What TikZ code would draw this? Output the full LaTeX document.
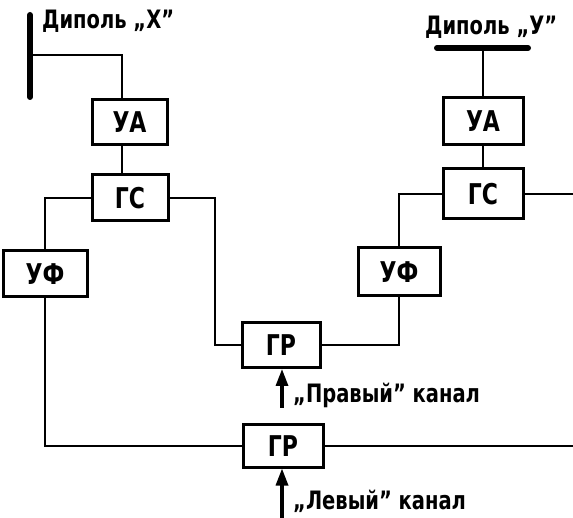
\documentclass[tikz,border=0pt]{standalone}
\usepackage{graphicx}
\usepackage{fontspec}
\setmainfont{DejaVu Sans}
\usetikzlibrary{arrows.meta,calc}
\newcommand{\tallt}[1]{\scalebox{1}[1.3]{#1}}
\begin{document}
\begin{tikzpicture}[x=1pt,y=-1pt,
  blk/.style={draw,line width=3pt,minimum width=#1,inner sep=0pt,font=\bfseries\fontsize{22}{22}\selectfont},
  wire/.style={line width=2.8pt},
  bar/.style={line width=6pt,line cap=round},
  arr/.style={line width=3.2pt,-{Triangle[length=17pt,width=12pt]}},
  lbl/.style={font=\bfseries\fontsize{19.5}{19.5}\selectfont,inner sep=0pt,anchor=west}]
\useasboundingbox (0,0) rectangle (573,518);
% blocks
\node[blk=75pt,minimum height=45pt] (uaL) at (129.5,122.5) {\tallt{УА}};
\node[blk=76pt,minimum height=46pt] (gsL) at (130,198) {\tallt{ГС}};
\node[blk=84pt,minimum height=46pt] (ufL) at (45,274) {\tallt{УФ}};
\node[blk=78pt,minimum height=45pt] (grU) at (281,345) {\tallt{ГР}};
\node[blk=80pt,minimum height=42pt] (grD) at (283,446) {\tallt{ГР}};
\node[blk=80pt,minimum height=47pt] (uaR) at (483,121) {\tallt{УА}};
\node[blk=80pt,minimum height=50pt] (gsR) at (483,194) {\tallt{ГС}};
\node[blk=82pt,minimum height=48pt] (ufR) at (399,272) {\tallt{УФ}};
% helper coordinates
\coordinate (cx) at (122,0);
\coordinate (cL) at (215,0);
\coordinate (re) at (573,0);
\coordinate (dXt) at (30,15);
\coordinate (dXb) at (30,97);
\coordinate (dX) at (30,55);
\coordinate (dYl) at (437,48);
\coordinate (dYr) at (528,48);
\coordinate (dY) at (483,48);
\coordinate (aU) at (282,408);
\coordinate (aD) at (282,518);
% dipoles
\draw[bar] (dXt) -- (dXb);
\draw[bar] (dYl) -- (dYr);
% wires
\draw[wire] (dX) -| (uaL.north -| cx);
\draw[wire] (uaL.south -| cx) -- (gsL.north -| cx);
\draw[wire] (gsL.west) -| (ufL.north);
\draw[wire] (ufL.south) |- (grD.west);
\draw[wire] (gsL.east) -- (gsL.east -| cL) |- (grU.west);
\draw[wire] (grU.east) -| (ufR.south);
\draw[wire] (ufR.north) |- (gsR.west);
\draw[wire] (gsR.east) -- (gsR.east -| re);
\draw[wire] (grD.east) -- (grD.east -| re);
\draw[wire] (uaR.south) -- (gsR.north);
\draw[wire] (dY) -- (uaR.north);
% arrows
\draw[arr] (aU) -- (aU |- grU.south);
\draw[arr] (aD) -- (aD |- grD.south);
% labels
\node[lbl] (tX) at (42,21) {\tallt{Диполь „X"}};
\node[lbl] (tY) at (425,27) {\tallt{Диполь „У"}};
\node[lbl] (tR) at (293,395) {\tallt{„Правый" канал}};
\node[lbl] (tL) at (293,501) {\tallt{„Левый" канал}};
\end{tikzpicture}
\end{document}
